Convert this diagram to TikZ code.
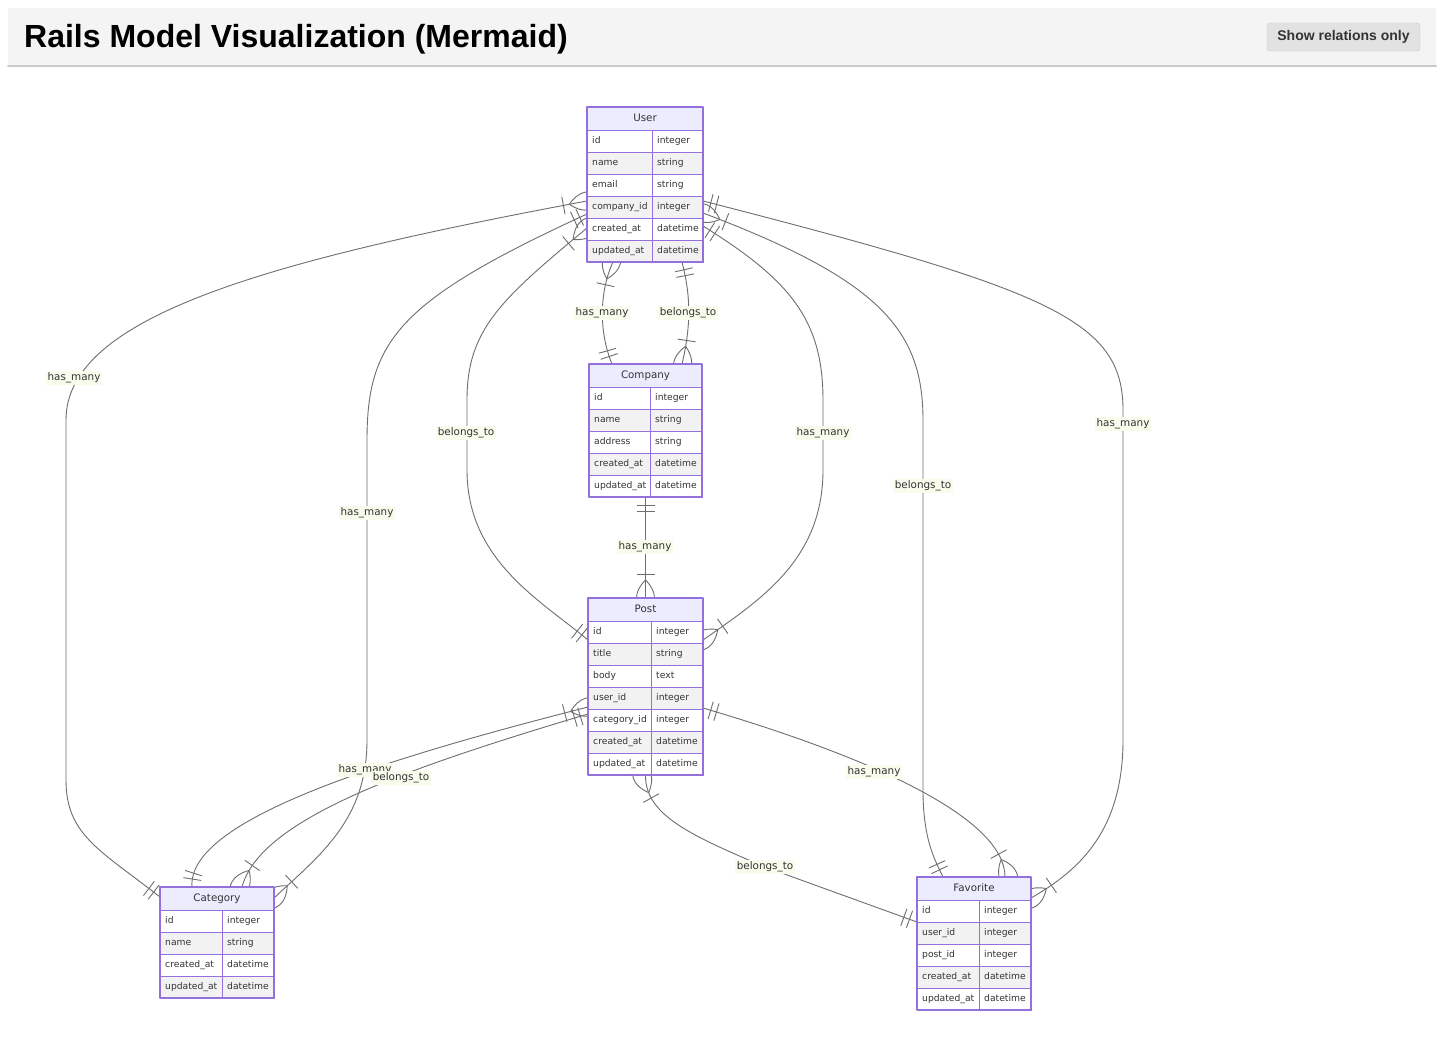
\documentclass[tikz,border=0pt]{standalone}
\usepackage{fontspec}
\setmainfont{DejaVu Sans}
\newfontfamily\headfont{Liberation Sans}
\usetikzlibrary{decorations.markings,positioning}
\definecolor{erborder}{HTML}{9370DB}
\definecolor{erhead}{HTML}{ECECFF}
\definecolor{rowgray}{HTML}{F2F2F2}
\definecolor{relgray}{HTML}{6E6E6E}
\definecolor{lblbg}{RGB}{248,252,236}
\definecolor{barbg}{HTML}{F4F4F4}
\definecolor{barline}{HTML}{CACACA}
\definecolor{btnbg}{HTML}{E2E2E2}
\definecolor{inkgray}{HTML}{333333}
\pgfdeclarelayer{back}
\pgfdeclarelayer{edges}
\pgfsetlayers{back,edges,main}
\begin{document}
\begin{tikzpicture}[x=1pt, y=-1pt, line join=round, line cap=round,
  font=\fontsize{9.2}{11}\selectfont,
  rel/.style={draw=relgray, line width=0.9pt},
  relmark/.style={draw=relgray, line width=0.9pt},
  src one/.style={postaction={decorate, decoration={markings,
    mark=at position 8pt with {\draw[relmark] (0,-9pt) -- (0,9pt);},
    mark=at position 14pt with {\draw[relmark] (0,-9pt) -- (0,9pt);}}}},
  dst one/.style={postaction={decorate, decoration={markings,
    mark=at position -8pt with {\draw[relmark] (0,-9pt) -- (0,9pt);},
    mark=at position -14pt with {\draw[relmark] (0,-9pt) -- (0,9pt);}}}},
  src many/.style={postaction={decorate, decoration={markings,
    mark=at position 18pt with {\draw[relmark] (0,0) .. controls (-12pt,12pt) and (-24pt,12pt) .. (-36pt,0) .. controls (-24pt,-12pt) and (-12pt,-12pt) .. (0,0);},
    mark=at position 24pt with {\draw[relmark] (0,-9pt) -- (0,9pt);}}}},
  dst many/.style={postaction={decorate, decoration={markings,
    mark=at position -18pt with {\draw[relmark] (0,0) .. controls (12pt,12pt) and (24pt,12pt) .. (36pt,0) .. controls (24pt,-12pt) and (12pt,-12pt) .. (0,0);},
    mark=at position -24pt with {\draw[relmark] (0,-9pt) -- (0,9pt);}}}},
  ercell/.style={draw=erborder, line width=0.9pt},
  erline/.style={draw=erborder, line width=1.4pt},
  erframe/.style={inner sep=0pt, outer sep=0pt, anchor=north west},
  ertitle/.style={text=inkgray, inner sep=0pt, text height=8pt, text depth=2.5pt, font=\fontsize{10.3}{12}\selectfont},
  ertext/.style={anchor=west, inner sep=0pt, text=inkgray, text height=7pt, text depth=2pt},
  lbl/.style={fill=lblbg, text=inkgray, inner sep=1.5pt, font=\fontsize{10.4}{12}\selectfont},
  btn/.style={draw=barline, fill=btnbg, rounded corners=3pt, minimum width=153pt, minimum height=28pt, inner sep=0pt, text=inkgray, font=\headfont\bfseries\fontsize{14}{16}\selectfont}]
\def\erentity#1#2#3#4#5#6#7#8{%
  \node[erframe, minimum width=#5, minimum height={23+22*#7}] (#1) at (#3,#4) {};
  \draw[ercell, fill=erhead] (#3,#4) rectangle ++(#5,23);
  \node[ertitle] (#1-title) at (#3+#5/2,#4+11.5) {#2};
  \foreach \akey/\atype [count=\i] in {#8} {
    \ifodd\i \def\rowfill{white}\else\def\rowfill{rowgray}\fi
    \draw[ercell, fill=\rowfill] (#3,{#4+1+22*\i}) rectangle ++(#6,22);
    \draw[ercell, fill=\rowfill] (#3+#6,{#4+1+22*\i}) rectangle ++(#5-#6,22);
    \node[ertext] at (#3+5,{#4+12+22*\i}) {\akey};
    \node[ertext] at (#3+#6+5,{#4+12+22*\i}) {\atype};
  }
  \draw[erline] (#1.north west) rectangle (#1.south east);
}
\useasboundingbox (0,0) rectangle (1444,1043);
\begin{pgfonlayer}{back}
  \fill[white] (0,0) rectangle (1444,1043);
\end{pgfonlayer}
\fill[barbg] (8,8) rectangle (1436,65);
\draw[barline, line width=2pt] (8,66) -- (1436,66);
\node[anchor=base west, inner sep=0pt, font=\headfont\bfseries\fontsize{32}{38}\selectfont] (title) at (24,48) {Rails Model Visualization (Mermaid)};
\node[btn] (btn) at (1343.5,37) {Show relations only};

\erentity{User}{User}{587}{107}{116}{65}{6}{id/integer, name/string, email/string, company\_id/integer, created\_at/datetime, updated\_at/datetime}
\erentity{Company}{Company}{589}{364}{113}{61}{5}{id/integer, name/string, address/string, created\_at/datetime, updated\_at/datetime}
\erentity{Post}{Post}{588}{598}{115}{63}{7}{id/integer, title/string, body/text, user\_id/integer, category\_id/integer, created\_at/datetime, updated\_at/datetime}
\erentity{Category}{Category}{160}{887}{114}{62}{4}{id/integer, name/string, created\_at/datetime, updated\_at/datetime}
\erentity{Favorite}{Favorite}{917}{877}{114}{62}{5}{id/integer, user\_id/integer, post\_id/integer, created\_at/datetime, updated\_at/datetime}

\begin{pgfonlayer}{edges}
  \draw[rel, src many, dst one] ([xshift=26pt]User.south west) .. controls (600,290) and (598,330) .. ([xshift=23pt]Company.north west);
  \draw[rel, src many, dst one] ([xshift=93pt]Company.north west) .. controls (690,330) and (692,300) .. ([xshift=95pt]User.south west);
  \draw[rel, src one, dst many] (Company.south) -- (Post.north);
  \draw[rel, src many, dst one] ([yshift=-94pt]User.north west) .. controls (260,262) and (66,318) .. (66,420) -- (66,780) .. controls (66,835) and (100,850) .. ([yshift=-10pt]Category.north west);
  \draw[rel, src one, dst many] ([yshift=-107pt]User.north west) .. controls (400,300) and (367,340) .. (367,440) -- (367,740) .. controls (367,820) and (320,855) .. ([yshift=-11pt]Category.north east);
  \draw[rel, src many, dst one] ([yshift=-121pt]User.north west) .. controls (500,300) and (467,330) .. (467,400) -- (467,470) .. controls (467,560) and (540,600) .. ([yshift=-42pt]Post.north west);
  \draw[rel, src one, dst many] ([yshift=-94pt]User.north east) .. controls (1050,290) and (1123,320) .. (1123,410) -- (1123,740) .. controls (1123,830) and (1080,870) .. ([yshift=-21pt]Favorite.north east);
  \draw[rel, src many, dst one] ([yshift=-106pt]User.north east) .. controls (880,280) and (923,330) .. (923,420) -- (923,790) .. controls (923,840) and (935,860) .. ([xshift=26pt]Favorite.north west);
  \draw[rel, src one, dst many] ([yshift=-119pt]User.north east) .. controls (790,280) and (823,320) .. (823,400) -- (823,470) .. controls (823,560) and (760,600) .. ([yshift=-42pt]Post.north east);
  \draw[rel, src many, dst one] ([yshift=-109pt]Post.north west) .. controls (380,760) and (187,820) .. ([xshift=32pt]Category.north west);
  \draw[rel, src one, dst many] ([yshift=-116pt]Post.north west) .. controls (400,770) and (260,820) .. ([xshift=82pt]Category.north west);
  \draw[rel, src many, dst one] (Post.south) .. controls (645,815) and (690,835) .. (765,867) -- ([yshift=-45pt]Favorite.north west);
  \draw[rel, src one, dst many] ([yshift=-110pt]Post.north east) .. controls (880,760) and (1005,820) .. ([xshift=88pt]Favorite.north west);
\end{pgfonlayer}

\node[lbl] (lbl-uc) at (602,313) {has\_many};
\node[lbl] (lbl-cu) at (688,313) {belongs\_to};
\node[lbl] (lbl-cp) at (645,547) {has\_many};
\node[lbl] (lbl-uca) at (74,378) {has\_many};
\node[lbl] (lbl-ucb) at (367,513) {has\_many};
\node[lbl] (lbl-pu) at (466,433) {belongs\_to};
\node[lbl] (lbl-ufa) at (1123,424) {has\_many};
\node[lbl] (lbl-ufb) at (923,486) {belongs\_to};
\node[lbl] (lbl-up) at (823,433) {has\_many};
\node[lbl] (lbl-pca) at (365,770) {has\_many};
\node[lbl] (lbl-pcb) at (401,778) {belongs\_to};
\node[lbl] (lbl-pfa) at (765,867) {belongs\_to};
\node[lbl] (lbl-pfb) at (874,772) {has\_many};
\end{tikzpicture}
\end{document}
